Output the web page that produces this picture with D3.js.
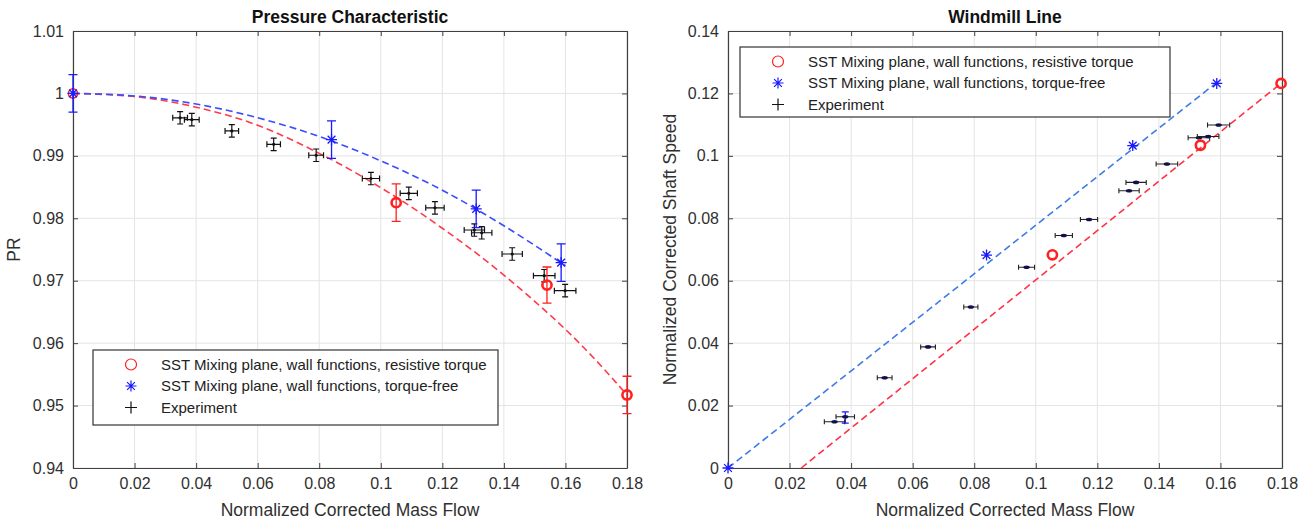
<!DOCTYPE html>
<html><head><meta charset="utf-8">
<script src="https://cdn.jsdelivr.net/npm/d3@7"></script>
<style>
body{margin:0;background:#fff;}
svg{display:block;font-family:"Liberation Sans",Arial,Helvetica,sans-serif;}
</style></head>
<body><svg id="c" width="1309" height="524"></svg>
<script>
// ---------- DATA ----------
const xTicks = [0,0.02,0.04,0.06,0.08,0.1,0.12,0.14,0.16,0.18];
const xTickLabels = ["0","0.02","0.04","0.06","0.08","0.1","0.12","0.14","0.16","0.18"];
const prTicks = [0.94,0.95,0.96,0.97,0.98,0.99,1,1.01];
const prTickLabels = ["0.94","0.95","0.96","0.97","0.98","0.99","1","1.01"];
const nTicks = [0,0.02,0.04,0.06,0.08,0.1,0.12,0.14];
const nTickLabels = ["0","0.02","0.04","0.06","0.08","0.1","0.12","0.14"];

const legendLabels = ["SST Mixing plane, wall functions, resistive torque","SST Mixing plane, wall functions, torque-free","Experiment"];

// Pressure characteristic — CFD resistive torque (red circles)
const prRedX   = [0, 0.105, 0.154, 0.18];
const prRedY   = [1.0, 0.9825, 0.9693, 0.9517];
const prRedErr = [0, 0.003, 0.0029, 0.003];
// CFD torque-free (blue stars)
const prBlueX   = [0, 0.084, 0.131, 0.1586];
const prBlueY   = [1.0, 0.9926, 0.9815, 0.9729];
const prBlueErr = [0.003, 0.003, 0.003, 0.003];
// dashed trend curves
const prRedCurveX = [0,0.02,0.04,0.06,0.08,0.09,0.1,0.11,0.12,0.13,0.14,0.15,0.16,0.17,0.18];
const prRedCurveY = [1.0,0.9995,0.9978,0.9949,0.9904,0.9878,0.9849,0.9818,0.9784,0.9748,0.9709,0.9667,0.9622,0.9572,0.9517];
const prBlueCurveX = [0,0.02,0.04,0.06,0.08,0.1,0.12,0.14,0.16];
const prBlueCurveY = [1.0,0.9996,0.9983,0.9961,0.9931,0.9892,0.9845,0.9788,0.9724];
// experiment
const expX    = [0.0348,0.0386,0.0516,0.0652,0.0790,0.0968,0.1091,0.1176,0.1304,0.1328,0.1427,0.1531,0.1599];
const expPR   = [0.9961,0.9958,0.9940,0.99185,0.9901,0.98637,0.9840,0.98168,0.97812,0.97768,0.97428,0.9708,0.9684];
const expXErr = [0.0024,0.0024,0.0022,0.0022,0.0024,0.0028,0.0028,0.003,0.0033,0.0033,0.0033,0.0035,0.0035];
const expPRErr= [0.001,0.001,0.001,0.001,0.001,0.001,0.001,0.001,0.001,0.001,0.001,0.001,0.001];

// Windmill line
const wRedX = [0.1054, 0.1535, 0.1797];
const wRedY = [0.0683, 0.1034, 0.1232];
const wBlueX = [0, 0.084, 0.1315, 0.1588];
const wBlueY = [0, 0.0682, 0.1033, 0.1232];
const wBlueErrX = [0.0381];
const wBlueErrY = [0.0162];
const wBlueErr  = [0.0018];
const wRedLineX = [0.0238, 0.18];
const wRedLineY = [0, 0.1235];
const wBlueLineX = [0, 0.1588];
const wBlueLineY = [0, 0.1235];
const wExpX = [0.0346,0.0381,0.0509,0.0650,0.0789,0.0970,0.1091,0.1173,0.1303,0.1326,0.1426,0.1530,0.1560,0.1594];
const wExpY = [0.0148,0.0164,0.0289,0.0388,0.0516,0.0643,0.0745,0.0796,0.0888,0.0915,0.0974,0.1058,0.1062,0.1099];
const wExpXErr = [0.0033,0.003,0.0024,0.0024,0.0023,0.0026,0.0028,0.0028,0.0033,0.0033,0.0035,0.0035,0.0035,0.0036];

// ---------- DRAWING ----------
const svg = d3.select("#c");
const AX = "#404040", TXT = "#303030", GRID = "#e4e4e4";
const RED = "#ff2020", BLUE = "#1a1aff";

function panel(o){
  const g = svg.append("g");
  const x = d3.scaleLinear().domain([0,0.18]).range([o.left,o.right]);
  const y = d3.scaleLinear().domain(o.ydom).range([468,31]);
  const [y0,y1] = y.range();
  // grid
  g.append("g").selectAll("line").data(o.xt).join("line")
    .attr("x1",d=>x(d)).attr("x2",d=>x(d)).attr("y1",y1).attr("y2",y0)
    .attr("stroke",GRID).attr("stroke-width",1);
  g.append("g").selectAll("line").data(o.yt).join("line")
    .attr("x1",o.left).attr("x2",o.right).attr("y1",d=>y(d)).attr("y2",d=>y(d))
    .attr("stroke",GRID).attr("stroke-width",1);
  // axes
  const bx = d3.axisBottom(x).tickValues(o.xt).tickFormat((d,i)=>o.xl[i]).tickSizeInner(-5).tickSizeOuter(0).tickPadding(10);
  const tx = d3.axisTop(x).tickValues(o.xt).tickFormat("").tickSizeInner(-5).tickSizeOuter(0);
  const ly = d3.axisLeft(y).tickValues(o.yt).tickFormat((d,i)=>o.yl[i]).tickSizeInner(-5).tickSizeOuter(0).tickPadding(9);
  const ry = d3.axisRight(y).tickValues(o.yt).tickFormat("").tickSizeInner(-5).tickSizeOuter(0);
  const axes = [
    g.append("g").attr("transform",`translate(0,${y0})`).call(bx),
    g.append("g").attr("transform",`translate(0,${y1})`).call(tx),
    g.append("g").attr("transform",`translate(${o.left},0)`).call(ly),
    g.append("g").attr("transform",`translate(${o.right},0)`).call(ry)
  ];
  axes.forEach(a=>{
    a.selectAll("path").attr("stroke",AX).attr("stroke-width",1.2);
    a.selectAll("line").attr("stroke",AX);
    a.selectAll("text").attr("fill",TXT).style("font-size","16px").style("font-family","'Liberation Sans',Arial,sans-serif");
  });
  // labels
  svg.append("text").attr("x",(o.left+o.right)/2).attr("y",23).attr("text-anchor","middle")
    .style("font-size","17.5px").style("font-weight","bold").attr("fill","#111").text(o.title);
  svg.append("text").attr("x",(o.left+o.right)/2).attr("y",516).attr("text-anchor","middle")
    .style("font-size","17.5px").attr("fill",TXT).text("Normalized Corrected Mass Flow");
  svg.append("text").attr("transform",`translate(${o.ylx},${(y0+y1)/2}) rotate(-90)`).attr("text-anchor","middle")
    .style("font-size","17.5px").attr("fill",TXT).text(o.ylabel);
  return {g,x,y};
}

function star(sel,cx,cy,r,color,w){
  const a = r*0.7071;
  const p = `M${cx-r},${cy}L${cx+r},${cy}M${cx},${cy-r}L${cx},${cy+r}M${cx-a},${cy-a}L${cx+a},${cy+a}M${cx-a},${cy+a}L${cx+a},${cy-a}`;
  sel.append("path").attr("d",p).attr("stroke",color).attr("stroke-width",w).attr("fill","none");
}
function vbar(sel,cx,ya,yb,cap,color,w){
  sel.append("path").attr("d",`M${cx},${ya}L${cx},${yb}M${cx-cap},${ya}L${cx+cap},${ya}M${cx-cap},${yb}L${cx+cap},${yb}`)
    .attr("stroke",color).attr("stroke-width",w).attr("fill","none");
}
function hbar(sel,xa,xb,cy,cap,color,w){
  sel.append("path").attr("d",`M${xa},${cy}L${xb},${cy}M${xa},${cy-cap}L${xa},${cy+cap}M${xb},${cy-cap}L${xb},${cy+cap}`)
    .attr("stroke",color).attr("stroke-width",w).attr("fill","none");
}
function legend(x0,y0,w,h){
  const g = svg.append("g");
  g.append("rect").attr("x",x0).attr("y",y0).attr("width",w).attr("height",h).attr("fill","#fff").attr("stroke","#333").attr("stroke-width",1.2);
  const mx = x0+38, tx = x0+68, dy = 21.5, yy = y0+14.5;
  g.append("circle").attr("cx",mx).attr("cy",yy).attr("r",5.5).attr("fill","none").attr("stroke",RED).attr("stroke-width",1.2);
  star(g,mx,yy+dy,5.5,BLUE,1.2);
  g.append("path").attr("d",`M${mx-6},${yy+2*dy}L${mx+6},${yy+2*dy}M${mx},${yy+2*dy-6}L${mx},${yy+2*dy+6}`).attr("stroke","#111").attr("stroke-width",1.2);
  legendLabels.forEach((t,i)=>{
    g.append("text").attr("x",tx).attr("y",yy+i*dy).attr("dy","0.35em").style("font-size","15px").attr("fill","#222").text(t);
  });
}

// ---- Left: Pressure characteristic ----
{
  const {g,x,y} = panel({left:73,right:627,ydom:[0.94,1.01],xt:xTicks,xl:xTickLabels,yt:prTicks,yl:prTickLabels,
    title:"Pressure Characteristic",ylabel:"PR",ylx:20});
  const line = d3.line().x(d=>x(d[0])).y(d=>y(d[1])).curve(d3.curveMonotoneX);
  g.append("path").attr("d",line(d3.zip(prRedCurveX,prRedCurveY))).attr("fill","none").attr("stroke","#ff3a4a").attr("stroke-width",1.6).attr("stroke-dasharray","7,4");
  g.append("path").attr("d",line(d3.zip(prBlueCurveX,prBlueCurveY))).attr("fill","none").attr("stroke","#3a4cff").attr("stroke-width",1.6).attr("stroke-dasharray","7,4");
  // experiment
  expX.forEach((v,i)=>{
    const cx=x(v), cy=y(expPR[i]);
    hbar(g,x(v-expXErr[i]),x(v+expXErr[i]),cy,3,"#111",1.2);
    vbar(g,cx,y(expPR[i]-expPRErr[i]),y(expPR[i]+expPRErr[i]),3,"#111",1.2);
    g.append("circle").attr("cx",cx).attr("cy",cy).attr("r",1.6).attr("fill","#111");
  });
  // red CFD
  prRedX.forEach((v,i)=>{
    const cx=x(v), cy=y(prRedY[i]);
    if(prRedErr[i]>0) vbar(g,cx,y(prRedY[i]-prRedErr[i]),y(prRedY[i]+prRedErr[i]),4.5,RED,1.3);
    g.append("circle").attr("cx",cx).attr("cy",cy).attr("r",4.6).attr("fill","none").attr("stroke",RED).attr("stroke-width",i===0?1.5:2.6);
  });
  // blue CFD
  prBlueX.forEach((v,i)=>{
    const cx=x(v), cy=y(prBlueY[i]);
    vbar(g,cx,y(prBlueY[i]-prBlueErr[i]),y(prBlueY[i]+prBlueErr[i]),4.5,BLUE,1.3);
    star(g,cx,cy,5.5,BLUE,1.3);
  });
  legend(93,350,405,75);
}

// ---- Right: Windmill line ----
{
  const {g,x,y} = panel({left:728,right:1282,ydom:[0,0.14],xt:xTicks,xl:xTickLabels,yt:nTicks,yl:nTickLabels,
    title:"Windmill Line",ylabel:"Normalized Corrected Shaft Speed",ylx:676});
  const line = d3.line().x(d=>x(d[0])).y(d=>y(d[1]));
  g.append("path").attr("d",line(d3.zip(wBlueLineX,wBlueLineY))).attr("fill","none").attr("stroke","#3f7be6").attr("stroke-width",1.6).attr("stroke-dasharray","7,4");
  g.append("path").attr("d",line(d3.zip(wRedLineX,wRedLineY))).attr("fill","none").attr("stroke","#ff3348").attr("stroke-width",1.6).attr("stroke-dasharray","7,4");
  wBlueErrX.forEach((v,i)=>{
    vbar(g,x(v),y(wBlueErrY[i]-wBlueErr[i]),y(wBlueErrY[i]+wBlueErr[i]),3.5,BLUE,1.3);
  });
  wExpX.forEach((v,i)=>{
    const cx=x(v), cy=y(wExpY[i]);
    hbar(g,x(v-wExpXErr[i]),x(v+wExpXErr[i]),cy,2.5,"#222",1.1);
    g.append("ellipse").attr("cx",cx).attr("cy",cy).attr("rx",3.2).attr("ry",1.8).attr("fill","#10104a");
  });
  wRedX.forEach((v,i)=>{
    g.append("circle").attr("cx",x(v)).attr("cy",y(wRedY[i])).attr("r",4.6).attr("fill","none").attr("stroke",RED).attr("stroke-width",2.6);
  });
  wBlueX.forEach((v,i)=>{
    star(g,x(v),y(wBlueY[i]),5.5,BLUE,1.3);
  });
  legend(740,47,430,70);
}
</script></body></html>
